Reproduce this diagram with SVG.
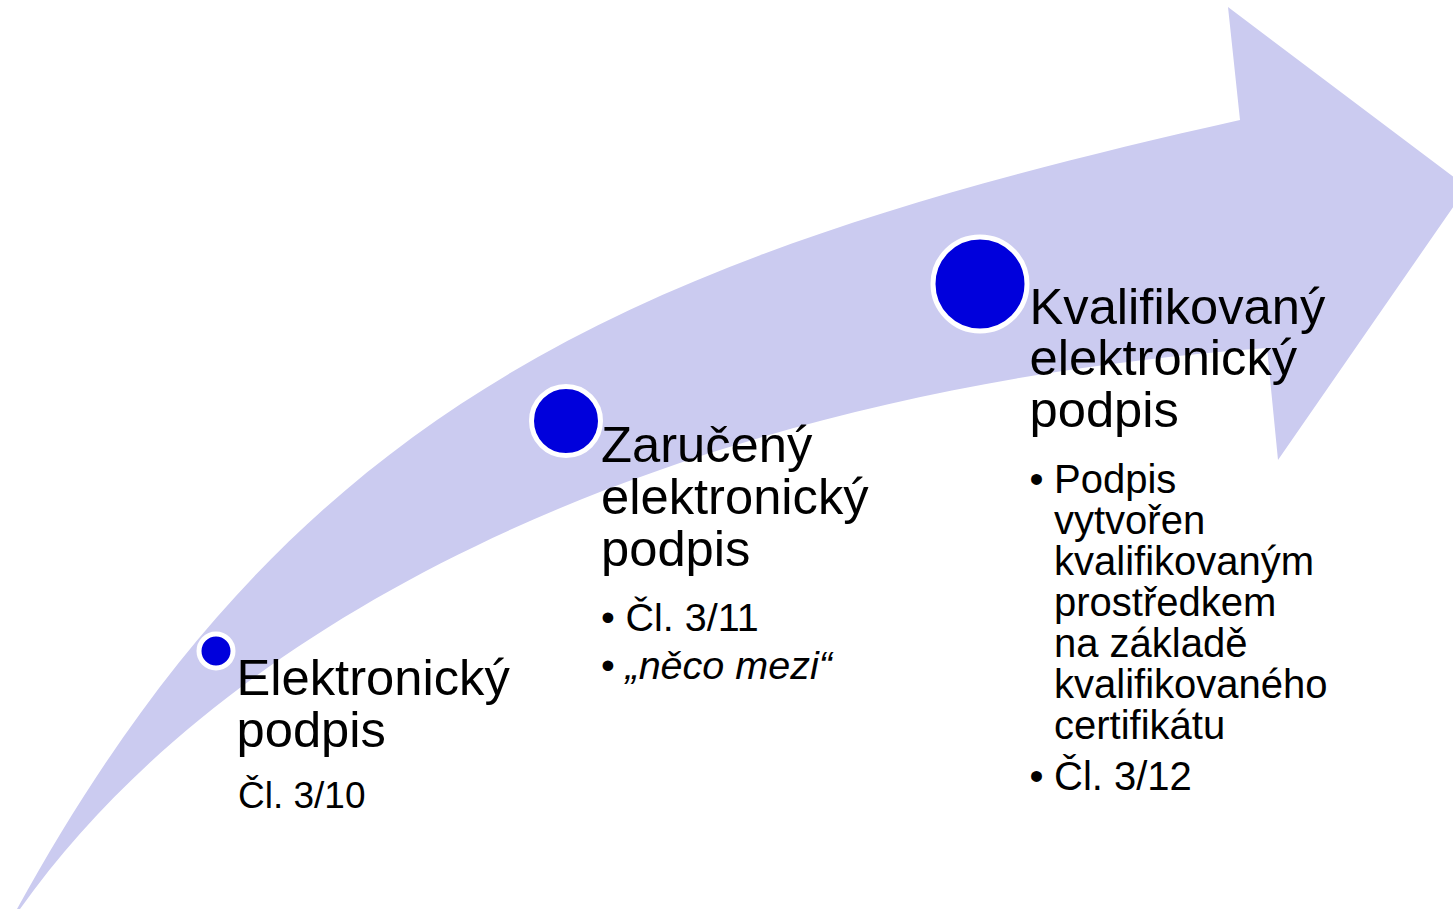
<svg xmlns="http://www.w3.org/2000/svg" width="1453" height="909" viewBox="0 0 1453 909">
  <style>
    .arrow { fill: #CBCBF0; }
    .dot { fill: #0000DC; stroke: #FFFFFF; stroke-width: 5; }
    .t { font-family: "Liberation Sans", Arial, sans-serif; fill: #000000; }
    .h { font-size: 50.7px; }
    .b1 { font-size: 37px; }
    .b2 { font-size: 39.5px; }
    .b3 { font-size: 40px; }
    .it { font-style: italic; }
  </style>
  <rect x="0" y="0" width="1453" height="909" fill="#FFFFFF"/>
  <g id="arrow">
    <path class="arrow" d="M17,909 C293,407 628,257 1240,120 L1228,7 L1467,187 L1278,460 L1267,348 C700,390 240,600 20,909 Z"/>
  </g>
  <g id="connectors"></g>
  <g id="node-elektronicky">
    <circle class="dot" cx="216" cy="651" r="17"/>
    <text class="t h" x="236.5" y="695">Elektronický</text>
    <text class="t h" x="236.5" y="746.5">podpis</text>
    <text class="t b1" x="238" y="808">Čl. 3/10</text>
  </g>
  <g id="node-zaruceny">
    <circle class="dot" cx="566" cy="421" r="34.5"/>
    <text class="t h" x="601" y="461.5">Zaručený</text>
    <text class="t h" x="601" y="513.5">elektronický</text>
    <text class="t h" x="601" y="565.5">podpis</text>
    <text class="t b2" x="601" y="630.5">•</text>
    <text class="t b2" x="625.5" y="630.5">Čl. 3/11</text>
    <text class="t b2" x="601" y="678.5">•</text>
    <text class="t b2 it" x="625.5" y="678.5">„něco mezi“</text>
  </g>
  <g id="node-kvalifikovany">
    <circle class="dot" cx="980" cy="284" r="47"/>
    <text class="t h" x="1029.5" y="323.5">Kvalifikovaný</text>
    <text class="t h" x="1029.5" y="375">elektronický</text>
    <text class="t h" x="1029.5" y="426.5">podpis</text>
    <text class="t b3" x="1029.5" y="493.3">•</text>
    <text class="t b3" x="1054" y="493.3">Podpis</text>
    <text class="t b3" x="1054" y="534.3">vytvořen</text>
    <text class="t b3" x="1054" y="575.3">kvalifikovaným</text>
    <text class="t b3" x="1054" y="616.3">prostředkem</text>
    <text class="t b3" x="1054" y="657.3">na základě</text>
    <text class="t b3" x="1054" y="698.3">kvalifikovaného</text>
    <text class="t b3" x="1054" y="739.3">certifikátu</text>
    <text class="t b3" x="1029.5" y="790">•</text>
    <text class="t b3" x="1054" y="790">Čl. 3/12</text>
  </g>
</svg>
